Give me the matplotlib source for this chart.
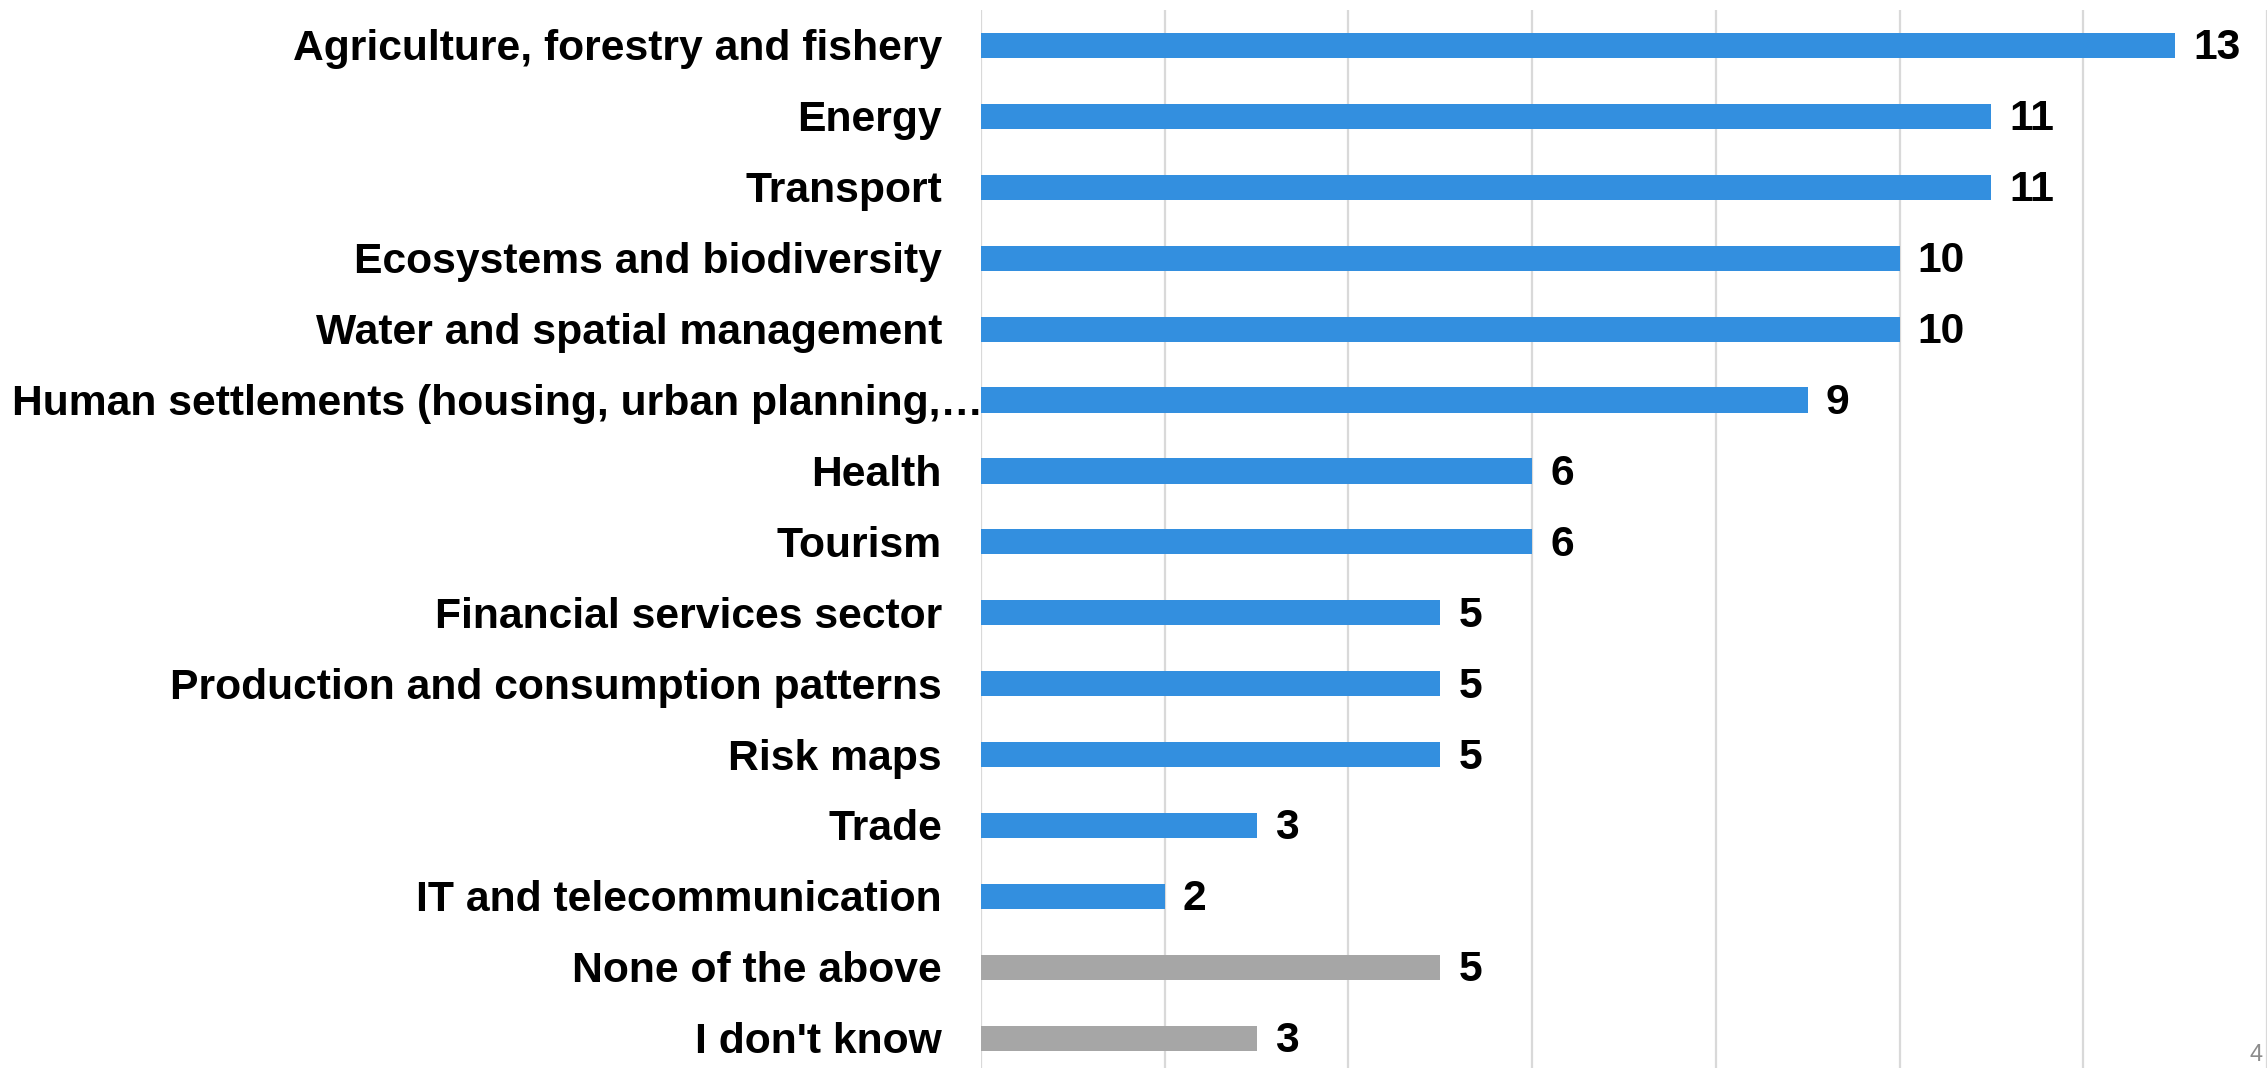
import matplotlib.pyplot as plt
from matplotlib.transforms import ScaledTranslation

categories = ['Agriculture, forestry and fishery', 'Energy', 'Transport',
              'Ecosystems and biodiversity', 'Water and spatial management',
              'Human settlements (housing, urban planning,\u2026',
              'Health', 'Tourism', 'Financial services sector',
              'Production and consumption patterns', 'Risk maps', 'Trade',
              'IT and telecommunication', 'None of the above', "I don't know"]
values = [13, 11, 11, 10, 10, 9, 6, 6, 5, 5, 5, 3, 2, 5, 3]
grey_rows = ['None of the above', "I don't know"]

blue = '#338FDF'
grey = '#A6A6A6'

plt.rcParams['font.family'] = ['Liberation Sans', 'DejaVu Sans']

fig = plt.figure(figsize=(22.67, 10.68), dpi=100)
ax = fig.add_axes([981 / 2267, 0, 1 - 981 / 2267, 1 - 10 / 1068])

ypos = list(range(len(categories)))
colors = [grey if c in grey_rows else blue for c in categories]
ax.barh(ypos, values, height=0.355, color=colors, zorder=2)

ax.set_xlim(0, 14)
ax.set_ylim(14.42, -0.5)
ax.set_xticks(range(0, 15, 2))
ax.grid(axis='x', color='#D9D9D9', linewidth=1.6, zorder=0)
ax.tick_params(left=False, bottom=False, labelleft=False, labelbottom=False)
for s in ax.spines.values():
    s.set_visible(False)

fs = 30.7
# category labels, right aligned left of the axis
for i, c in enumerate(categories):
    dx = 0.02 if c.startswith('Human') else -39 / 100
    tr = ax.get_yaxis_transform() + ScaledTranslation(dx, -0.04, fig.dpi_scale_trans)
    ax.text(0, i, c, transform=tr, ha='right', va='center',
            fontsize=fs, fontweight='bold', color='black')

# value labels
for i, v in enumerate(values):
    tr = ax.transData + ScaledTranslation(0.18, -0.03, fig.dpi_scale_trans)
    ax.text(v, i, str(v), transform=tr, ha='left', va='center',
            fontsize=fs, fontweight='bold', color='black')

fig.text(2250 / 2267, 2 / 1068, '4', ha='left', va='bottom',
         fontsize=17, color='#8C8C8C')

fig.savefig('out.png', dpi=100)
